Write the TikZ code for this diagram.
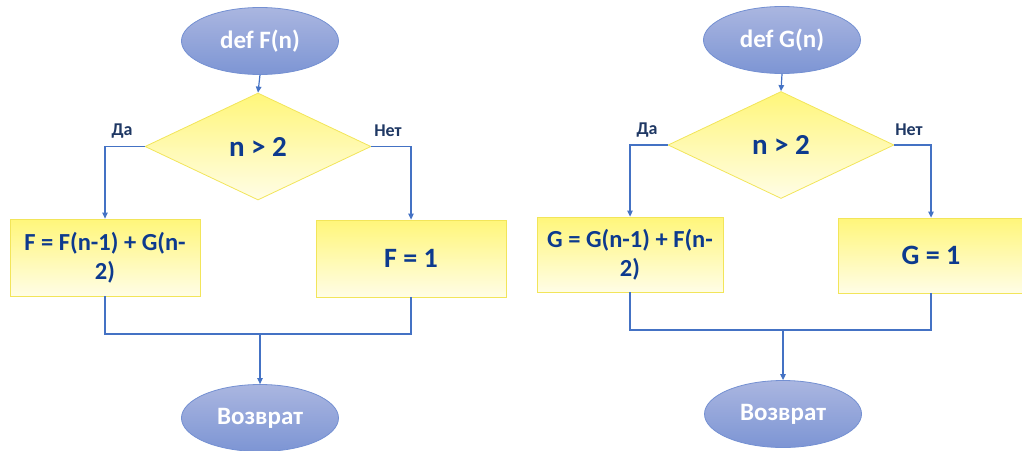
\documentclass[tikz,border=0pt]{standalone}
\usepackage{fontspec}
\setmainfont{Carlito}
\usetikzlibrary{shapes.geometric,arrows.meta}

\definecolor{flowline}{HTML}{4472C4}
\definecolor{termtop}{HTML}{AAB6E0}
\definecolor{termbot}{HTML}{7D95D4}
\definecolor{termedge}{HTML}{7490D2}
\definecolor{procTop}{HTML}{FFF67A}
\definecolor{procBot}{HTML}{FFFDE6}
\definecolor{procEdge}{HTML}{F2E55A}
\definecolor{navytext}{HTML}{0D3A8E}
\definecolor{labeltext}{HTML}{1F3864}

\tikzset{
  terminal/.style={ellipse, draw=termedge, line width=0.8pt,
    top color=termtop, bottom color=termbot,
    minimum width=157pt, minimum height=67pt, inner sep=0pt,
    text=white, font=\fontsize{25}{28}\selectfont\bfseries},
  decision/.style={diamond, draw=procEdge, line width=0.8pt,
    top color=procTop, bottom color=procBot, shading angle=0,
    aspect=2.1, minimum width=226pt, minimum height=107pt, inner sep=0pt,
    text=navytext, font=\fontsize{29}{32}\selectfont\bfseries},
  process/.style={rectangle, draw=procEdge, line width=0.8pt,
    top color=procTop, bottom color=procBot,
    minimum width=190pt, minimum height=77pt, inner sep=2pt, align=center,
    text=navytext},
  bigtext/.style={font=\fontsize{28}{32}\selectfont\bfseries},
  smalltext/.style={font=\fontsize{24.5}{29}\selectfont\bfseries},
  branch/.style={text=labeltext, font=\fontsize{18}{20}\selectfont\bfseries},
  link/.style={draw=flowline, line width=1.2pt},
  arrowlink/.style={link, -{Triangle[length=6pt,width=5.5pt]}},
}

\begin{document}
\begin{tikzpicture}[x=1pt, y=-1pt]
\useasboundingbox (0,0) rectangle (1022,450);

% ---------- F(n) ----------
\node[terminal] (startF) at (260,41) {def F(n)};
\node[decision] (condF) at (258,146.5) {n > 2};
\node[process, smalltext, minimum width=190pt, minimum height=77pt] (recF) at (105,257.5)
  {F = F(n-1) + G(n-\\2)};
\node[process, bigtext, minimum width=190pt, minimum height=77pt] (baseF) at (411,258.5) {F = 1};
\node[terminal] (endF) at (260,418) {Возврат};
\node[branch] (yesF) at (122,131) {Да};
\node[branch] (noF) at (388,131) {Нет};
\coordinate (joinF) at (260,334);

\draw[arrowlink] (startF.south) -- (condF.north);
\draw[arrowlink] (condF.west) -| (recF.north);
\draw[arrowlink] (condF.east) -| (baseF.north);
\draw[link] (recF.south) |- (joinF) -| (baseF.south);
\draw[arrowlink] (joinF) -- (endF.north);

% ---------- G(n) ----------
\node[terminal] (startG) at (782,40) {def G(n)};
\node[decision] (condG) at (781,145) {n > 2};
\node[process, smalltext, minimum width=186pt, minimum height=75pt] (recG) at (630,254.5)
  {G = G(n-1) + F(n-\\2)};
\node[process, bigtext, minimum width=186pt, minimum height=75pt] (baseG) at (931,255.5) {G = 1};
\node[terminal] (endG) at (783,414) {Возврат};
\node[branch] (yesG) at (647,130) {Да};
\node[branch] (noG) at (909,130) {Нет};
\coordinate (joinG) at (783,330);

\draw[arrowlink] (startG.south) -- (condG.north);
\draw[arrowlink] (condG.west) -| (recG.north);
\draw[arrowlink] (condG.east) -| (baseG.north);
\draw[link] (recG.south) |- (joinG) -| (baseG.south);
\draw[arrowlink] (joinG) -- (endG.north);
\end{tikzpicture}
\end{document}
